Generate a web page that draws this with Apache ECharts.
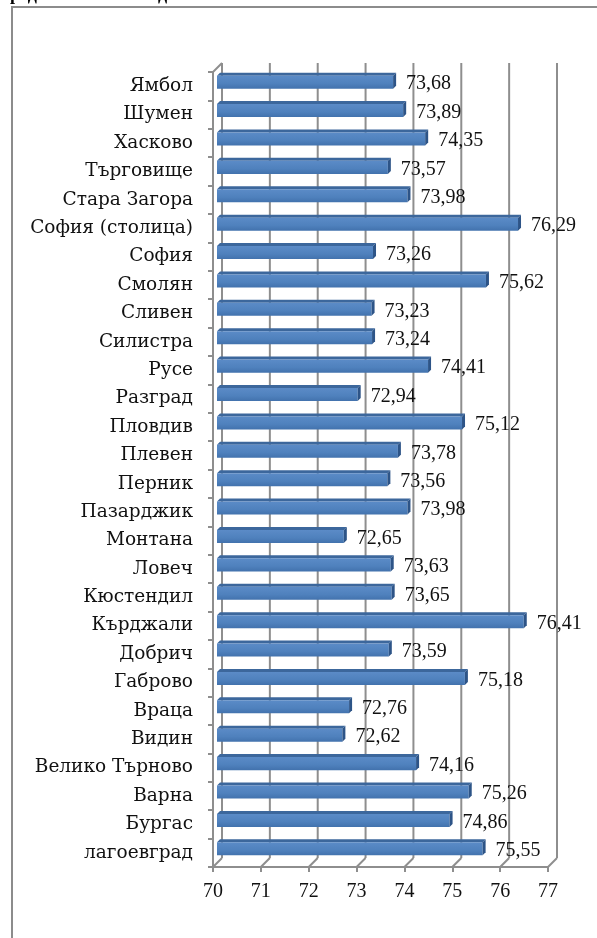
<!DOCTYPE html>
<html>
<head>
<meta charset="utf-8">
<script src="https://cdn.jsdelivr.net/npm/echarts@6/dist/echarts.min.js"></script>
<style>
  html, body { margin: 0; padding: 0; background: #fff; }
  #chart { width: 597px; height: 938px; }
</style>
</head>
<body>
<div id="chart"></div>
<script>
// области, отгоре надолу
const regions = ['Ямбол', 'Шумен', 'Хасково', 'Търговище', 'Стара Загора', 'София (столица)',
  'София', 'Смолян', 'Сливен', 'Силистра', 'Русе', 'Разград', 'Пловдив', 'Плевен', 'Перник',
  'Пазарджик', 'Монтана', 'Ловеч', 'Кюстендил', 'Кърджали', 'Добрич', 'Габрово', 'Враца',
  'Видин', 'Велико Търново', 'Варна', 'Бургас', 'лагоевград']
const lifeExp = [73.68, 73.89, 74.35, 73.57, 73.98, 76.29, 73.26, 75.62, 73.23, 73.24, 74.41,
  72.94, 75.12, 73.78, 73.56, 73.98, 72.65, 73.63, 73.65, 76.41, 73.59, 75.18, 72.76, 72.62,
  74.16, 75.26, 74.86, 75.55]
const xTicks = [70, 71, 72, 73, 74, 75, 76, 77]

const gridColor = '#8e8e8e'
const depth = 9 // отместване на задната стена

const chart = echarts.init(document.getElementById('chart'))

// задна стена и под
function renderGrid (params, api) {
  const cs = params.coordSys
  const v = api.value(0)
  const x = api.coord([v, 0])[0]
  const top = cs.y
  const bottom = cs.y + cs.height
  const lines = [
    { x1: x + depth, y1: top - depth, x2: x + depth, y2: bottom - depth },
    { x1: x, y1: bottom, x2: x + depth, y2: bottom - depth }
  ]
  if (v === xTicks[0]) {
    lines.push({ x1: x, y1: top, x2: x + depth, y2: top - depth })
  }
  return {
    type: 'group',
    children: lines.map(s => ({
      type: 'line',
      shape: s,
      style: { stroke: gridColor, lineWidth: 2 }
    }))
  }
}

// 3D колони
function renderBar (params, api) {
  const v = api.value(0)
  const i = api.value(1)
  const p = api.coord([v, i])
  const p0 = api.coord([xTicks[0], i])
  const band = api.size([0, 1])[1]
  const h = band * 0.46
  const off = 4
  const d = 3
  const x0 = p0[0] + off
  const x1 = p[0] + off
  const yt = p[1] - h / 2 - off
  const yb = p[1] + h / 2 - off
  return {
    type: 'group',
    children: [
      {
        type: 'polygon',
        shape: { points: [[x0, yt], [x1, yt], [x1 + d, yt - d], [x0 + d, yt - d]] },
        style: { fill: '#3c679c' }
      },
      {
        type: 'rect',
        shape: { x: x0, y: yt, width: x1 - x0, height: yb - yt },
        style: {
          fill: new echarts.graphic.LinearGradient(0, 0, 0, 1, [
            { offset: 0, color: '#5b8bc7' },
            { offset: 0.6, color: '#4f81bd' },
            { offset: 1, color: '#4272ad' }
          ])
        }
      },
      {
        type: 'polygon',
        shape: { points: [[x1, yt], [x1 + d, yt - d], [x1 + d, yb - d], [x1, yb]] },
        style: { fill: '#2d5487' }
      },
      {
        type: 'text',
        z2: 10,
        style: {
          text: v.toFixed(2).replace('.', ','),
          x: p[0] + 17,
          y: p[1] - 2,
          align: 'left',
          verticalAlign: 'middle',
          fill: '#111',
          font: '20px "Liberation Serif"'
        }
      }
    ]
  }
}

const option = {
  animation: false,
  graphic: [
    {
      type: 'rect',
      shape: { x: 12, y: 7, width: 700, height: 1000 },
      style: { fill: 'none', stroke: '#8c8c8c', lineWidth: 2 }
    },
    {
      type: 'text',
      style: {
        text: 'реда 2010 - 2013 година по области',
        x: 10,
        y: 4,
        verticalAlign: 'bottom',
        fill: '#000',
        font: 'bold 18px "Liberation Serif"'
      }
    }
  ],
  grid: {
    left: 213,
    top: 72,
    width: 335,
    height: 795
  },
  xAxis: {
    type: 'value',
    min: 70,
    max: 77,
    interval: 1,
    axisLine: { show: true, lineStyle: { color: gridColor, width: 2 } },
    axisTick: { show: true, length: 5, lineStyle: { color: gridColor, width: 2 } },
    splitLine: { show: false },
    axisLabel: {
      margin: 15,
      color: '#111',
      fontFamily: 'Liberation Serif',
      fontSize: 20
    }
  },
  yAxis: {
    type: 'category',
    inverse: true,
    data: regions,
    axisLine: { show: true, lineStyle: { color: gridColor, width: 2 } },
    axisTick: { show: true, length: 5, lineStyle: { color: gridColor, width: 2 } },
    axisLabel: {
      margin: 20,
      color: '#111',
      fontFamily: 'DejaVu Serif',
      fontSize: 18.5
    }
  },
  series: [
    {
      type: 'custom',
      silent: true,
      z: 1,
      renderItem: renderGrid,
      encode: { x: 0, y: 1 },
      data: xTicks.map(v => [v, 0])
    },
    {
      type: 'custom',
      silent: true,
      z: 5,
      renderItem: renderBar,
      encode: { x: 0, y: 1 },
      data: lifeExp.map((v, i) => [v, i])
    }
  ]
}

chart.setOption(option)
window.addEventListener('resize', () => {
  chart.resize()
})
</script>
</body>
</html>
